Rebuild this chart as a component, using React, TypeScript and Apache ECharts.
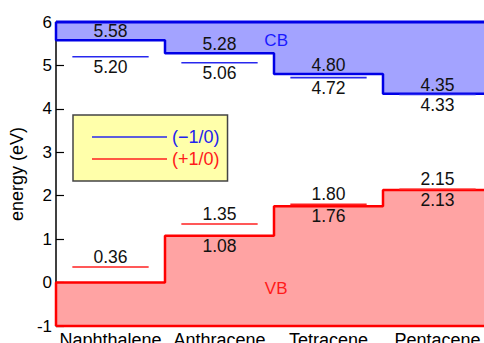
import React, { useEffect, useRef } from "react";
import * as echarts from "echarts";

const categories = ["Naphthalene", "Anthracene", "Tetracene", "Pentacene"];
const cbEdge = [5.58, 5.28, 4.8, 4.35];
const anionLevel = [5.2, 5.06, 4.72, 4.33];
const vbEdge = [0.0, 1.08, 1.76, 2.13];
const cationLevel = [0.36, 1.35, 1.8, 2.15];
const vbLabelShown = [false, true, true, true];
const yMin = -1;
const yMax = 6;
const bandLabels = [
  { name: "CB", x: 2.02, y: 5.585, color: "#1a1aff" },
  { name: "VB", x: 2.02, y: -0.13, color: "#ff1a1a" },
];

const FONT = "Liberation Sans, Arial, Helvetica, sans-serif";
const BLUE = "#0000e6";
const RED = "#ff0000";
const HALF = 0.35;

function stepPath(vals: number[]) {
  const pts: number[][] = [];
  vals.forEach((v, i) => {
    pts.push([i, v]);
    pts.push([i + 1, v]);
  });
  return pts;
}

export default function App() {
  const ref = useRef<HTMLDivElement>(null);
  useEffect(() => {
    if (!ref.current) return;
    const chart = echarts.init(ref.current, undefined, { renderer: "svg" });
    const n = categories.length;

    const levelSeries = (name: string, vals: number[], color: string) =>
      vals.map((v, i) => ({
        type: "line",
        name,
        xAxisIndex: 1,
        symbol: "none",
        clip: false,
        silent: true,
        lineStyle: { color, width: 1.6 },
        itemStyle: { color },
        data: [
          [i + 0.5 - HALF, v],
          [i + 0.5 + HALF, v],
        ],
      }));

    const labelItems: any[] = [];
    cbEdge.forEach((v, i) =>
      labelItems.push({ value: [i + 0.5, v], label: { position: "top", distance: 0 } })
    );
    anionLevel.forEach((v, i) =>
      labelItems.push({ value: [i + 0.5, v], label: { position: "bottom", distance: 1 } })
    );
    vbEdge.forEach((v, i) => {
      if (vbLabelShown[i])
        labelItems.push({ value: [i + 0.5, v], label: { position: "bottom", distance: 1 } });
    });
    cationLevel.forEach((v, i) =>
      labelItems.push({ value: [i + 0.5, v], label: { position: "top", distance: 1 } })
    );

    chart.setOption({
      animation: false,
      grid: { left: 56, top: 22, width: 436, height: 304, outerBoundsMode: "none", containLabel: false },
      xAxis: [
        {
          type: "category",
          data: categories,
          boundaryGap: true,
          axisLine: { show: false },
          axisTick: { show: false },
          axisLabel: { interval: 0, fontSize: 18, color: "#000", margin: 5, fontFamily: FONT },
        },
        { type: "value", min: 0, max: n, show: false },
      ],
      yAxis: {
        type: "value",
        min: yMin,
        max: yMax,
        interval: 1,
        name: "energy (eV)",
        nameLocation: "middle",
        nameGap: 24,
        nameTextStyle: { fontSize: 18, color: "#000", fontFamily: FONT },
        axisLine: { show: true, lineStyle: { color: "#000", width: 1.5 } },
        axisTick: { show: true, inside: true, length: 8, lineStyle: { color: "#000", width: 1.2 } },
        splitLine: { show: false },
        axisLabel: { fontSize: 17, color: "#000", margin: 4, fontFamily: FONT },
      },
      legend: {
        orient: "vertical",
        left: 73,
        top: 115,
        selectedMode: false,
        backgroundColor: "#ffffaa",
        borderColor: "#444",
        borderWidth: 1.5,
        borderRadius: 0,
        padding: [13, 8, 13, 19],
        icon: "rect",
        itemWidth: 75,
        itemHeight: 1.6,
        itemGap: 4,
        textStyle: { fontSize: 18, fontFamily: FONT, lineHeight: 16 },
        data: [
          { name: "(\u22121/0)", textStyle: { color: "#2222ee" } },
          { name: "(+1/0)", textStyle: { color: "#ff1a1a" } },
        ],
      },
      series: [
        {
          type: "line",
          name: "CB",
          xAxisIndex: 1,
          symbol: "none",
          clip: false,
          silent: true,
          lineStyle: { color: BLUE, width: 2.5 },
          areaStyle: { color: "#a3a3ff", opacity: 1, origin: "end" },
          data: [[0, yMax], ...stepPath(cbEdge)],
        },
        {
          type: "line",
          name: "CBtop",
          xAxisIndex: 1,
          symbol: "none",
          clip: false,
          silent: true,
          lineStyle: { color: BLUE, width: 3 },
          data: [
            [0, yMax],
            [n, yMax],
          ],
        },
        {
          type: "line",
          name: "VB",
          xAxisIndex: 1,
          symbol: "none",
          clip: false,
          silent: true,
          lineStyle: { color: RED, width: 2.5 },
          areaStyle: { color: "#ffa3a3", opacity: 1, origin: "start" },
          data: [[0, yMin], ...stepPath(vbEdge)],
        },
        {
          type: "line",
          name: "VBbottom",
          xAxisIndex: 1,
          symbol: "none",
          clip: false,
          silent: true,
          lineStyle: { color: RED, width: 2.5 },
          data: [
            [0, yMin],
            [n, yMin],
          ],
        },
        ...levelSeries("(\u22121/0)", anionLevel, "#2828ee"),
        ...levelSeries("(+1/0)", cationLevel, "#ff2020"),
        {
          type: "scatter",
          name: "values",
          xAxisIndex: 1,
          symbolSize: 0,
          silent: true,
          itemStyle: { opacity: 1 },
          label: {
            show: true,
            fontSize: 17.5,
            fontFamily: FONT,
            color: "#111",
            opacity: 1,
            formatter: (p: any) => Number(p.value[1]).toFixed(2),
          },
          data: labelItems,
          z: 5,
        },
        {
          type: "scatter",
          name: "bands",
          xAxisIndex: 1,
          symbolSize: 0,
          silent: true,
          itemStyle: { opacity: 1 },
          label: { show: true, position: "inside", fontSize: 17, fontFamily: FONT, opacity: 1, formatter: "{b}" },
          data: bandLabels.map((b) => ({
            name: b.name,
            value: [b.x, b.y],
            label: { color: b.color },
          })),
          z: 5,
        },
      ],
    });
    return () => chart.dispose();
  }, []);
  return (
    <div
      style={{
        position: "fixed",
        left: 0,
        top: 0,
        width: 484,
        height: 343,
        overflow: "hidden",
        background: "#fff",
      }}
    >
      <div ref={ref} style={{ width: 500, height: 343 }} />
    </div>
  );
}
